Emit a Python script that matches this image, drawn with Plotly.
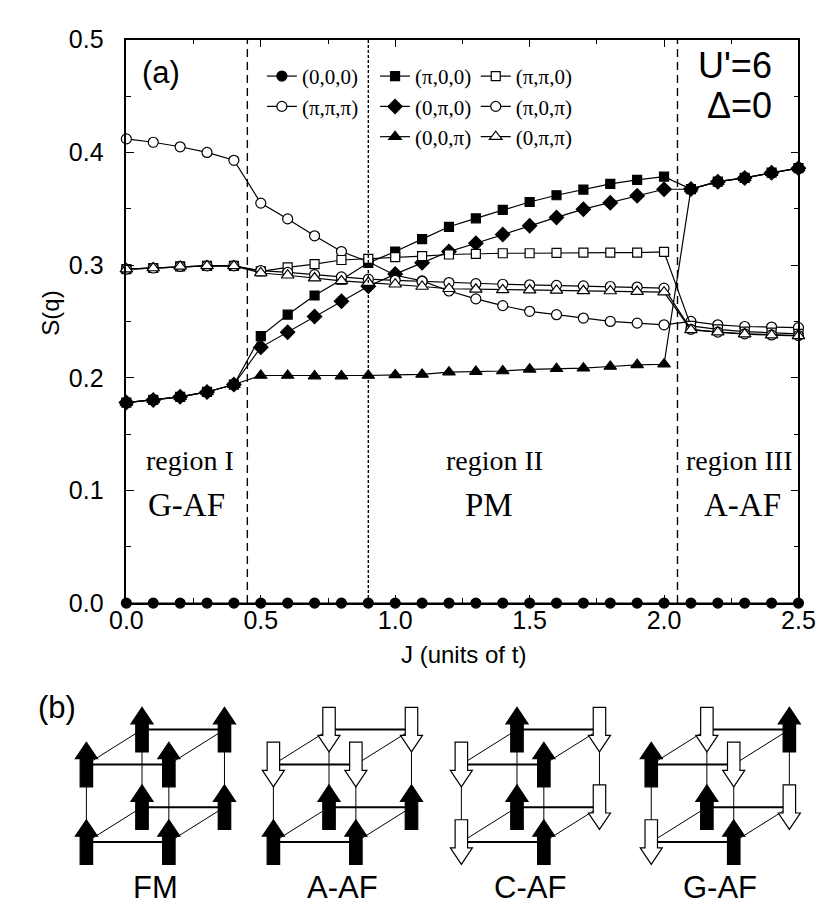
import plotly.graph_objects as go

W, H = 830, 913

# coupling J (units of t)
J = [0.0, 0.1, 0.2, 0.3, 0.4, 0.5, 0.6, 0.7, 0.8, 0.9, 1.0, 1.1, 1.2,
     1.3, 1.4, 1.5, 1.6, 1.7, 1.8, 1.9, 2.0, 2.1, 2.2, 2.3, 2.4, 2.5]

# spin structure factor S(q)
S_000 = [0.0, 0.0, 0.0, 0.0, 0.0, 0.0, 0.0, 0.0, 0.0, 0.0, 0.0, 0.0, 0.0,
         0.0, 0.0, 0.0, 0.0, 0.0, 0.0, 0.0, 0.0, 0.0, 0.0, 0.0, 0.0, 0.0]
S_ppp = [0.412, 0.409, 0.405, 0.400, 0.393, 0.355, 0.341, 0.326, 0.312, 0.303,
         0.291, 0.286, 0.277, 0.270, 0.264, 0.259, 0.256, 0.253, 0.250, 0.2485,
         0.247, 0.250, 0.247, 0.2455, 0.245, 0.2445]
S_p00 = [0.178, 0.1803, 0.1831, 0.1874, 0.194, 0.237, 0.256, 0.273, 0.287, 0.302,
         0.312, 0.323, 0.334, 0.3415, 0.349, 0.356, 0.362, 0.367, 0.372, 0.3757,
         0.3785, 0.3675, 0.374, 0.3774, 0.382, 0.386]
S_0p0 = [0.178, 0.1803, 0.1831, 0.1874, 0.194, 0.227, 0.2405, 0.2543, 0.2678, 0.2812,
         0.292, 0.302, 0.312, 0.3194, 0.3272, 0.335, 0.3423, 0.3496, 0.3553, 0.3615,
         0.3673, 0.3675, 0.374, 0.3774, 0.382, 0.386]
S_00p = [0.178, 0.1803, 0.1831, 0.1874, 0.194, 0.202, 0.202, 0.2015, 0.2015, 0.202,
         0.2025, 0.203, 0.205, 0.2055, 0.206, 0.2075, 0.208, 0.2085, 0.210, 0.2115,
         0.212, 0.3675, 0.374, 0.3774, 0.382, 0.386]
S_pp0 = [0.2965, 0.2974, 0.2988, 0.2993, 0.2993, 0.2945, 0.298, 0.3008, 0.3045, 0.3055,
         0.307, 0.308, 0.3094, 0.310, 0.3105, 0.3105, 0.3108, 0.311, 0.311, 0.311,
         0.3117, 0.246, 0.243, 0.241, 0.240, 0.239]
S_p0p = [0.2965, 0.2974, 0.2988, 0.2993, 0.2993, 0.295, 0.2935, 0.2915, 0.2895, 0.2875,
         0.2865, 0.2855, 0.2845, 0.2835, 0.283, 0.2825, 0.282, 0.2815, 0.281, 0.2805,
         0.2795, 0.243, 0.2405, 0.239, 0.238, 0.2375]
S_0pp = [0.2965, 0.2974, 0.2988, 0.2993, 0.2993, 0.293, 0.291, 0.2885, 0.286, 0.2845,
         0.283, 0.281, 0.279, 0.2785, 0.278, 0.2778, 0.2775, 0.2772, 0.277, 0.2765,
         0.276, 0.2425, 0.2405, 0.2388, 0.2378, 0.2372]

# phase boundaries
bounds = [0.45, 0.9, 2.05]
bound_dash = ["8px,5px", "3px,2px", "8px,5px"]

# panel (b): spins on [FBL, FBR, FTL, FTR, BBL, BBR, BTL, BTR], 1 = up
phases = ["FM", "A-AF", "C-AF", "G-AF"]
spins = {
    "FM": [1, 1, 1, 1, 1, 1, 1, 1],
    "A-AF": [1, 1, -1, -1, 1, 1, -1, -1],
    "C-AF": [-1, 1, -1, 1, 1, -1, 1, -1],
    "G-AF": [-1, 1, 1, -1, 1, -1, -1, 1],
}
cube_x = [64, 259, 455, 653]


def px(x):
    return x / W


def py(y):
    return 1 - y / H


fig = go.Figure()

# name, data, symbol, filled, legend
series = [
    ("(0,0,0)", S_000, "circle", True, "legend"),
    ("(π,π,π)", S_ppp, "circle", False, "legend"),
    ("(π,0,0)", S_p00, "square", True, "legend2"),
    ("(0,π,0)", S_0p0, "diamond", True, "legend2"),
    ("(0,0,π)", S_00p, "triangle-up", True, "legend2"),
    ("(π,π,0)", S_pp0, "square", False, "legend3"),
    ("(π,0,π)", S_p0p, "circle", False, "legend3"),
    ("(0,π,π)", S_0pp, "triangle-up", False, "legend3"),
]
sizes = {"circle": 10, "square": 9, "diamond": 11, "triangle-up": 11}

for name, vals, sym, filled, leg in series:
    fig.add_trace(go.Scatter(
        x=J, y=vals, name=name, mode="lines+markers", legend=leg,
        line=dict(color="black", width=1.2),
        marker=dict(symbol=sym, size=sizes[sym],
                    color="black" if filled else "white",
                    line=dict(color="black", width=1.2)),
        cliponaxis=False,
    ))

# phase boundary lines
for b, d in zip(bounds, bound_dash):
    fig.add_shape(type="line", xref="x", yref="y domain", x0=b, x1=b, y0=0, y1=1,
                  line=dict(color="black", width=1.4, dash=d))


# ---- panel (b): cubes with spin arrows ----
def arrow_path(cx, cy, up):
    half, hw, sw, hl = 23, 11.5, 6.5, 17
    d = 1 if up else -1
    tip = cy - d * half
    base = cy + d * half
    neck = tip + d * hl
    pts = [(cx - sw, base), (cx - sw, neck), (cx - hw, neck), (cx, tip),
           (cx + hw, neck), (cx + sw, neck), (cx + sw, base)]
    return "M " + " L ".join(f"{px(x):.5f},{py(y):.5f}" for x, y in pts) + " Z"


cw, ch, dx, dy, yb = 86, 80, 58, -36, 846
for x0, ph in zip(cube_x, phases):
    front = [(x0, yb), (x0 + cw, yb), (x0, yb - ch), (x0 + cw, yb - ch)]
    back = [(x + dx, y + dy) for x, y in front]
    verts = front + back
    edges = [(0, 1, 2), (2, 3, 2), (4, 5, 2), (6, 7, 2),
             (0, 2, 1), (1, 3, 1), (4, 6, 1), (5, 7, 1),
             (0, 4, 1), (1, 5, 1), (2, 6, 1), (3, 7, 1)]
    for a, b, w in edges:
        fig.add_shape(type="line", xref="paper", yref="paper",
                      x0=px(verts[a][0]), y0=py(verts[a][1]),
                      x1=px(verts[b][0]), y1=py(verts[b][1]),
                      line=dict(color="black", width=w))
    for i in [4, 5, 6, 7, 0, 1, 2, 3]:
        up = spins[ph][i] > 0
        fig.add_shape(type="path", xref="paper", yref="paper",
                      path=arrow_path(verts[i][0], verts[i][1], up),
                      fillcolor="black" if up else "white",
                      line=dict(color="black", width=1.2))
    fig.add_annotation(x=px(x0 + (cw + dx) / 2), y=py(893), xref="paper", yref="paper",
                       text=ph, showarrow=False, xanchor="center", yanchor="middle",
                       font=dict(family="Liberation Sans Narrow, Liberation Sans", size=31, color="black"))

# ---- text ----
ann = [
    ("(a)", 142, 52, "Liberation Sans", 31, "center"),
    ("(b)", 33, 707, "Liberation Sans", 31, "center"),
    ("U'=6", 781, 45, "Liberation Sans Narrow, Liberation Sans", 36, "right"),
    ("Δ=0", 781, 86, "Liberation Sans Narrow, Liberation Sans", 36, "right"),
    ("S(q)", 27, 300, "Liberation Sans", 24, "center"),
    ("J (units of t)", 457, 652, "Liberation Sans", 24, "center"),
]
for t, x, y, fam, sz, al in ann:
    fig.add_annotation(x=px(x), y=py(y), xref="paper", yref="paper", text=t,
                       showarrow=False, xanchor=al, yanchor="middle",
                       textangle=-90 if t == "S(q)" else 0,
                       font=dict(family=fam, size=sz, color="black"))

region_txt = [("region I", 0.237, 0.127, 28), ("G-AF", 0.225, 0.087, 33),
              ("region II", 1.37, 0.127, 28), ("PM", 1.35, 0.087, 33),
              ("region III", 2.28, 0.127, 28), ("A-AF", 2.29, 0.087, 33)]
for t, x, y, sz in region_txt:
    fig.add_annotation(x=x, y=y, xref="x", yref="y", text=t, showarrow=False,
                       font=dict(family="Liberation Serif", size=sz, color="black"))

axis_common = dict(showline=True, linecolor="black", linewidth=1.5, mirror="ticks",
                   ticks="inside", ticklen=8, tickwidth=1.3, tickcolor="black",
                   showgrid=False, zeroline=False, tickformat=".1f",
                   tickfont=dict(family="Liberation Sans", size=25, color="black"))

leg_common = dict(font=dict(family="Liberation Serif", size=21, color="black"),
                  bgcolor="rgba(0,0,0,0)", itemwidth=30, xanchor="left", yanchor="top",
                  itemclick=False)

fig.update_layout(
    width=W, height=H,
    margin=dict(l=0, r=0, t=0, b=0),
    paper_bgcolor="white", plot_bgcolor="white",
    xaxis=dict(domain=[105.7 / W, 806.5 / W], range=[0, 2.5], dtick=0.5, tick0=0,
               minor=dict(dtick=0.25, ticks="inside", ticklen=5, tickcolor="black"),
               ticklabelstandoff=-6, **axis_common),
    yaxis=dict(domain=[py(599.5), py(18.3)], range=[0, 0.5], dtick=0.1, tick0=0,
               minor=dict(dtick=0.05, ticks="inside", ticklen=5, tickcolor="black"),
               ticklabelstandoff=16, **axis_common),
    legend=dict(x=px(247), y=py(35), **leg_common),
    legend2=dict(x=px(365), y=py(35), **leg_common),
    legend3=dict(x=px(470), y=py(35), **leg_common),
)

fig.write_html("out.html")
